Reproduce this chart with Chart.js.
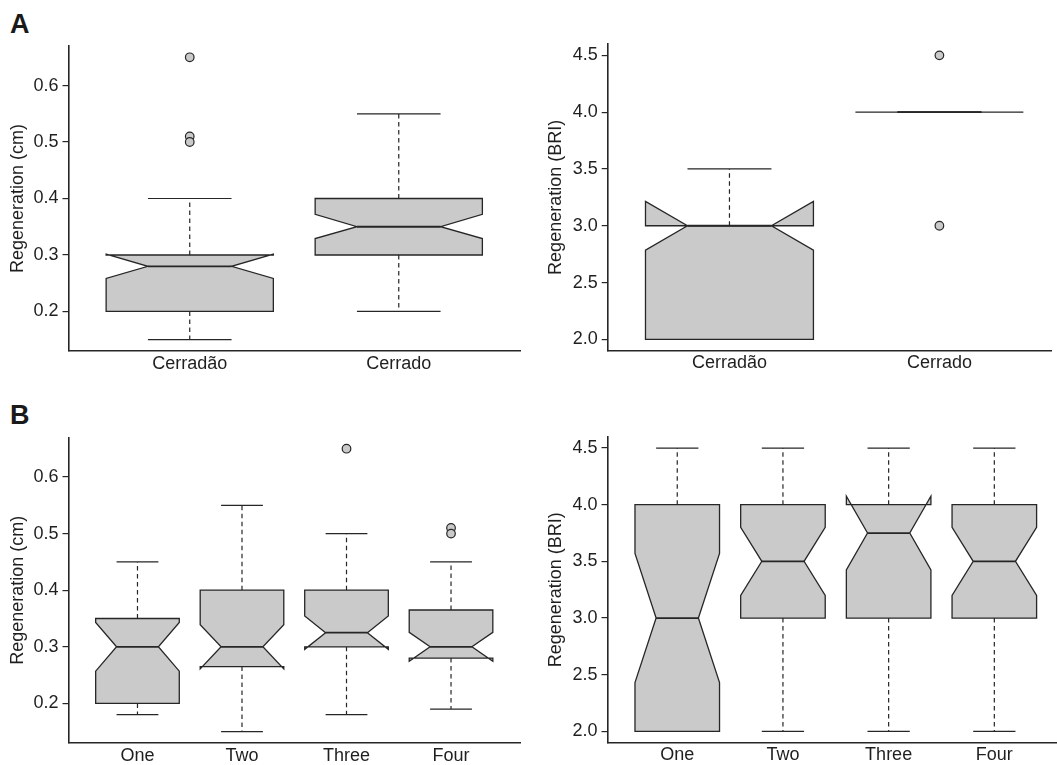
<!DOCTYPE html>
<html><head><meta charset="utf-8">
<script src="https://cdn.jsdelivr.net/npm/chart.js@4"></script>
<style>
body{margin:0;background:#fff;width:1057px;height:765px;overflow:hidden;position:relative;font-family:"Liberation Sans",Arial,sans-serif}
canvas{position:absolute}
.lab{position:absolute;font-weight:bold;font-size:27px;color:#1a1a1a;line-height:1;font-family:"Liberation Sans",Arial,sans-serif}
</style></head><body>
<div class="lab" style="left:10px;top:11px">A</div>
<div class="lab" style="left:10px;top:402px">B</div>
<canvas id="c1" width="530" height="390" style="left:0;top:0"></canvas>
<canvas id="c2" width="527" height="390" style="left:530px;top:0"></canvas>
<canvas id="c3" width="530" height="375" style="left:0;top:390px"></canvas>
<canvas id="c4" width="527" height="375" style="left:530px;top:390px"></canvas>
<script>
// ---- categories & tick labels ----
const habitatCategories = ['Cerradão', 'Cerrado'];
const numberCategories = ['One', 'Two', 'Three', 'Four'];
const cmTicks = [0.2, 0.3, 0.4, 0.5, 0.6];
const briTicks = [2.0, 2.5, 3.0, 3.5, 4.0, 4.5];

// ---- Panel A, left: Regeneration (cm) by habitat ----
const cmHabitatWhiskerLow  = [0.15, 0.20];
const cmHabitatQ1          = [0.20, 0.30];
const cmHabitatMedian      = [0.28, 0.35];
const cmHabitatQ3          = [0.30, 0.40];
const cmHabitatWhiskerHigh = [0.40, 0.55];
const cmHabitatNotchLow    = [0.2585, 0.329];
const cmHabitatNotchHigh   = [0.3015, 0.372];
const cmHabitatOutliers    = [[0.65, 0.51, 0.50], []];

// ---- Panel A, right: Regeneration (BRI) by habitat ----
const briHabitatWhiskerLow  = [2.0, 4.0];
const briHabitatQ1          = [2.0, 4.0];
const briHabitatMedian      = [3.0, 4.0];
const briHabitatQ3          = [3.0, 4.0];
const briHabitatWhiskerHigh = [3.5, 4.0];
const briHabitatNotchLow    = [2.785, 4.0];
const briHabitatNotchHigh   = [3.215, 4.0];
const briHabitatOutliers    = [[], [4.5, 3.0]];

// ---- Panel B, left: Regeneration (cm) by number ----
const cmNumberWhiskerLow  = [0.18, 0.15, 0.18, 0.19];
const cmNumberQ1          = [0.20, 0.265, 0.30, 0.28];
const cmNumberMedian      = [0.30, 0.30, 0.325, 0.30];
const cmNumberQ3          = [0.35, 0.40, 0.40, 0.365];
const cmNumberWhiskerHigh = [0.45, 0.55, 0.50, 0.45];
const cmNumberNotchLow    = [0.257, 0.261, 0.2955, 0.2745];
const cmNumberNotchHigh   = [0.343, 0.339, 0.3545, 0.3255];
const cmNumberOutliers    = [[], [], [0.65], [0.51, 0.50]];

// ---- Panel B, right: Regeneration (BRI) by number ----
const briNumberWhiskerLow  = [2.0, 2.0, 2.0, 2.0];
const briNumberQ1          = [2.0, 3.0, 3.0, 3.0];
const briNumberMedian      = [3.0, 3.5, 3.75, 3.5];
const briNumberQ3          = [4.0, 4.0, 4.0, 4.0];
const briNumberWhiskerHigh = [4.5, 4.5, 4.5, 4.5];
const briNumberNotchLow    = [2.43, 3.2, 3.425, 3.2];
const briNumberNotchHigh   = [3.57, 3.8, 4.075, 3.8];
const briNumberOutliers    = [[], [], [], []];

const FONT = '"Liberation Sans", Arial, sans-serif';
const INK = '#262626';
const FILL = '#c9cac9';

function boxPlugin(st) {
  return {
    id: 'notchedBoxes',
    beforeDatasetsDraw(chart) {
      const ctx = chart.ctx, x = chart.scales.x, y = chart.scales.y;
      const px = v => x.getPixelForValue(v), py = v => y.getPixelForValue(v);
      const w = 0.4, nf = 0.5, sw = 0.2;
      ctx.save();
      ctx.strokeStyle = INK;
      for (let i = 0; i < st.median.length; i++) {
        const c = i + 1;
        // dashed whiskers
        ctx.lineWidth = 1.2;
        ctx.setLineDash([4.5, 3.5]);
        ctx.beginPath();
        ctx.moveTo(px(c), py(st.q1[i])); ctx.lineTo(px(c), py(st.low[i]));
        ctx.moveTo(px(c), py(st.q3[i])); ctx.lineTo(px(c), py(st.high[i]));
        ctx.stroke();
        ctx.setLineDash([]);
        // staples
        ctx.beginPath();
        ctx.moveTo(px(c - sw), py(st.low[i])); ctx.lineTo(px(c + sw), py(st.low[i]));
        ctx.moveTo(px(c - sw), py(st.high[i])); ctx.lineTo(px(c + sw), py(st.high[i]));
        ctx.stroke();
        // notched box
        const xs = [c - w, c + w, c + w, c + w * nf, c + w, c + w, c - w, c - w, c - w * nf, c - w];
        const ys = [st.q1[i], st.q1[i], st.nlo[i], st.median[i], st.nhi[i], st.q3[i], st.q3[i], st.nhi[i], st.median[i], st.nlo[i]];
        ctx.beginPath();
        xs.forEach((xv, k) => { k ? ctx.lineTo(px(xv), py(ys[k])) : ctx.moveTo(px(xv), py(ys[k])); });
        ctx.closePath();
        ctx.fillStyle = FILL;
        ctx.fill();
        ctx.lineWidth = 1.3;
        ctx.lineJoin = 'miter';
        ctx.stroke();
        // median
        ctx.lineWidth = 1.8;
        ctx.beginPath();
        ctx.moveTo(px(c - w * nf), py(st.median[i])); ctx.lineTo(px(c + w * nf), py(st.median[i]));
        ctx.stroke();
      }
      ctx.restore();
    }
  };
}

function makePanel(id, p) {
  const pts = [];
  p.outliers.forEach((arr, i) => arr.forEach(v => pts.push({x: i + 1, y: v})));
  new Chart(document.getElementById(id), {
    type: 'scatter',
    data: { datasets: [{
      data: pts, pointRadius: 4.3, pointHoverRadius: 4.3,
      pointBackgroundColor: FILL, pointBorderColor: INK, pointBorderWidth: 1.2, clip: false
    }]},
    options: {
      responsive: false, animation: false, devicePixelRatio: 1,
      layout: { padding: { top: p.top, right: p.right, left: 0, bottom: 0 } },
      plugins: { legend: { display: false }, tooltip: { enabled: false } },
      scales: {
        x: {
          type: 'linear', min: p.xmin, max: p.xmax,
          afterBuildTicks: s => { s.ticks = p.cats.map((c, i) => ({ value: i + 1 })); },
          afterFit: s => { s.height = p.xh; },
          grid: { display: false, drawTicks: false },
          border: { display: true, color: INK, width: 1.6 },
          ticks: { autoSkip: false, maxRotation: 0, padding: p.xpad, color: '#1f1f1f',
                   font: { family: FONT, size: 18 }, callback: v => p.cats[v - 1] }
        },
        y: {
          type: 'linear', min: p.ymin, max: p.ymax,
          afterBuildTicks: s => { s.ticks = p.ticks.map(v => ({ value: v })); },
          afterFit: s => { s.width = p.yw; },
          grid: { display: true, drawOnChartArea: false, drawTicks: true, tickLength: 6, color: INK, lineWidth: 1.2 },
          border: { display: true, color: INK, width: 1.6 },
          ticks: { padding: 4, color: '#1f1f1f', font: { family: FONT, size: 18 },
                   callback: v => p.fmt(v) },
          title: { display: true, text: p.title, color: '#1f1f1f', font: { family: FONT, size: 18 },
                   padding: { top: p.tpad, bottom: 0 } }
        }
      }
    },
    plugins: [boxPlugin(p.stats)]
  });
}

const cmFmt = v => v.toFixed(1);
const briFmt = v => v.toFixed(1);

makePanel('c1', {
  cats: habitatCategories, ticks: cmTicks, fmt: cmFmt, title: 'Regeneration (cm)',
  xmin: 0.42, xmax: 2.58, ymin: 0.13, ymax: 0.67,
  top: 46, right: 10, yw: 68.5, xh: 39, xpad: 2, tpad: 7,
  outliers: cmHabitatOutliers,
  stats: { low: cmHabitatWhiskerLow, q1: cmHabitatQ1, median: cmHabitatMedian, q3: cmHabitatQ3,
           high: cmHabitatWhiskerHigh, nlo: cmHabitatNotchLow, nhi: cmHabitatNotchHigh }
});
makePanel('c2', {
  cats: habitatCategories, ticks: briTicks, fmt: briFmt, title: 'Regeneration (BRI)',
  xmin: 0.42, xmax: 2.534, ymin: 1.9, ymax: 4.6,
  top: 44, right: 0, yw: 77.7, xh: 39.3, xpad: 2, tpad: 15,
  outliers: briHabitatOutliers,
  stats: { low: briHabitatWhiskerLow, q1: briHabitatQ1, median: briHabitatMedian, q3: briHabitatQ3,
           high: briHabitatWhiskerHigh, nlo: briHabitatNotchLow, nhi: briHabitatNotchHigh }
});
makePanel('c3', {
  cats: numberCategories, ticks: cmTicks, fmt: cmFmt, title: 'Regeneration (cm)',
  xmin: 0.34, xmax: 4.66, ymin: 0.13, ymax: 0.67,
  top: 47.4, right: 10, yw: 68.5, xh: 22, xpad: 2, tpad: 7,
  outliers: cmNumberOutliers,
  stats: { low: cmNumberWhiskerLow, q1: cmNumberQ1, median: cmNumberMedian, q3: cmNumberQ3,
           high: cmNumberWhiskerHigh, nlo: cmNumberNotchLow, nhi: cmNumberNotchHigh }
});
makePanel('c4', {
  cats: numberCategories, ticks: briTicks, fmt: briFmt, title: 'Regeneration (BRI)',
  xmin: 0.34, xmax: 4.593, ymin: 1.9, ymax: 4.6,
  top: 46.7, right: 0, yw: 77.5, xh: 22.3, xpad: 2, tpad: 15,
  outliers: briNumberOutliers,
  stats: { low: briNumberWhiskerLow, q1: briNumberQ1, median: briNumberMedian, q3: briNumberQ3,
           high: briNumberWhiskerHigh, nlo: briNumberNotchLow, nhi: briNumberNotchHigh }
});
</script>
</body></html>
